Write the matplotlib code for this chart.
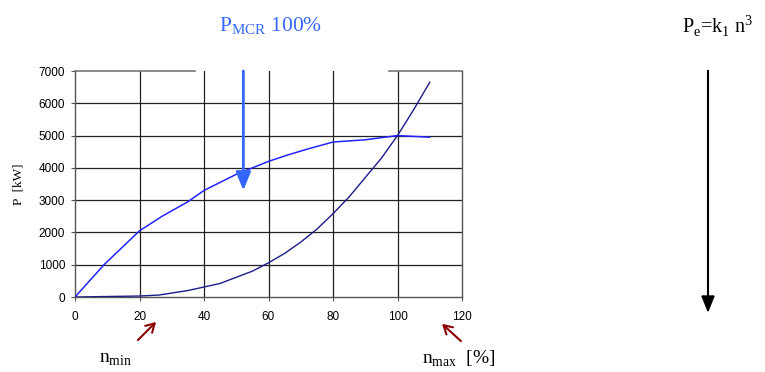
import matplotlib.pyplot as plt
import numpy as np

# speed [% of nominal]
n_engine = [0, 9, 20, 27, 35, 40, 50, 60, 66, 72, 80, 90, 100, 110]
p_engine = [0, 1000, 2050, 2500, 2950, 3300, 3800, 4200, 4400, 4580, 4800, 4870, 5000, 4950]

n_prop = [0, 20, 26, 35, 45, 55, 60, 65, 70, 75, 80, 85, 90, 95, 100, 105, 110]
p_prop = [0, 30, 60, 200, 420, 800, 1060, 1350, 1700, 2100, 2580, 3100, 3700, 4300, 5000, 5800, 6650]

x_ticks = [0, 20, 40, 60, 80, 100, 120]
y_ticks = [0, 1000, 2000, 3000, 4000, 5000, 6000, 7000]

serif = "Liberation Serif"
sans = "Liberation Sans"

fig = plt.figure(figsize=(7.65, 3.72), dpi=100)
W, H = 765, 372
ax = fig.add_axes([75 / W, 1 - 297 / H, (462 - 75) / W, (297 - 71) / H])

ax.plot(n_engine, p_engine, color="#2323ff", lw=1.1, zorder=3)
ax.plot(n_prop, p_prop, color="#1c1c8c", lw=1.0, zorder=3)

ax.set_xlim(0, 120)
ax.set_ylim(0, 7000)
ax.set_xticks(x_ticks)
ax.set_yticks(y_ticks)
ax.tick_params(labelsize=8.5, length=3, color="#555555")
ax.tick_params(axis="x", pad=7)
ax.tick_params(axis="y", pad=4)
for lab in ax.get_xticklabels() + ax.get_yticklabels():
    lab.set_fontfamily(sans)

# grid (top line has a gap where the title sits)
for x in x_ticks[1:-1]:
    ax.axvline(x, color="#222222", lw=0.9, zorder=1)
for y in y_ticks[1:-1]:
    ax.axhline(y, color="#222222", lw=0.9, zorder=1)
ax.axhline(7000, xmin=0, xmax=(195 - 75) / 387, color="#777777", lw=1.2, clip_on=False)
ax.axhline(7000, xmin=(389 - 75) / 387, xmax=1, color="#777777", lw=1.2, clip_on=False)
ax.spines["top"].set_visible(False)
for s in ["left", "right", "bottom"]:
    ax.spines[s].set_color("#555555")
    ax.spines[s].set_linewidth(1.0)

ax.set_ylabel("P  [kW]", fontfamily=serif, fontsize=9.5, labelpad=10)

# blue arrow
ax.annotate("", xy=(52.2, 3300), xytext=(52.2, 7000),
            arrowprops=dict(arrowstyle="-|>,head_length=1.1,head_width=0.45",
                            color="#3366ff", lw=2.0, shrinkA=0, shrinkB=0),
            zorder=4, annotation_clip=False)

fig.text(271 / W, 1 - 26 / H, r"P$_{\mathregular{MCR}}$ 100%", color="#3366ff",
         fontfamily=serif, fontsize=15.5, ha="center", va="center")
fig.text(718 / W, 1 - 26 / H, r"P$_{\mathregular{e}}$=k$_{\mathregular{1}}$ n$^{\mathregular{3}}$",
         color="black", fontfamily=serif, fontsize=14.5, ha="center", va="center")

# black arrow on the right
fig.add_artist(plt.Line2D([708 / W, 708 / W], [1 - 71 / H, 1 - 298 / H], color="black", lw=1.5))
fig.patches.append(plt.Polygon([[702 / W, 1 - 296 / H], [714 / W, 1 - 296 / H], [708 / W, 1 - 311 / H]],
                               closed=True, color="black", transform=fig.transFigure))

# dark red arrows for n_min / n_max
red = "#8b0000"
fig.add_artist(plt.Annotation("", xy=(158 / W, 1 - 320 / H), xytext=(136 / W, 1 - 342 / H),
                              xycoords="figure fraction", textcoords="figure fraction",
                              arrowprops=dict(arrowstyle="->,head_length=0.6,head_width=0.35",
                                              color=red, lw=1.5)))
fig.add_artist(plt.Annotation("", xy=(440 / W, 1 - 322 / H), xytext=(463 / W, 1 - 343 / H),
                              xycoords="figure fraction", textcoords="figure fraction",
                              arrowprops=dict(arrowstyle="->,head_length=0.6,head_width=0.35",
                                              color=red, lw=1.5)))

fig.text(99 / W, 1 - 359 / H, r"n$_{\mathregular{min}}$", fontfamily=serif, fontsize=14,
         ha="left", va="center")
fig.text(422 / W, 1 - 359 / H, r"n$_{\mathregular{max}}$  [%]", fontfamily=serif, fontsize=14,
         ha="left", va="center")

fig.savefig("out.png", dpi=100)
